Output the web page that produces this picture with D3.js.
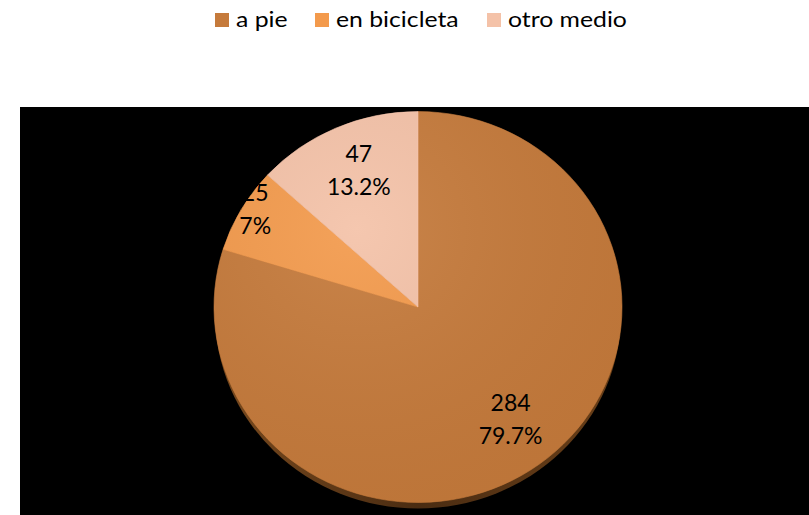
<!DOCTYPE html>
<html>
<head>
<meta charset="utf-8">
<script src="https://cdn.jsdelivr.net/npm/d3@7"></script>
<style>
  html, body { margin: 0; padding: 0; background: #fff; }
  svg { display: block; font-family: Lato, "Open Sans", sans-serif; }
</style>
</head>
<body>
<svg id="chart" width="809" height="515"></svg>
<script>
const categories = ["a pie", "en bicicleta", "otro medio"];
const values = [284, 25, 47];
const percents = ["79.7%", "7%", "13.2%"];
const colors = ["#c57a3b", "#f39a4c", "#f4c2a8"];

const svg = d3.select("#chart");
const width = 809, height = 515;

// fondo negro del área de trazado
svg.append("rect")
  .attr("x", 20).attr("y", 107)
  .attr("width", width - 20).attr("height", height - 107)
  .attr("fill", "#000");

const cx = 418, cy = 307, r = 204, squash = 0.958;

const pie = d3.pie().sort(null).value(d => d.value);
const arcs = pie(categories.map((c, i) => ({ cat: c, value: values[i], pct: percents[i], color: colors[i] })));

const arc = d3.arc().innerRadius(0).outerRadius(r);

const defs = svg.append("defs");
const shade = defs.append("linearGradient")
  .attr("id", "shadow-grad")
  .attr("x1", "0%").attr("x2", "100%").attr("y1", "0%").attr("y2", "0%");
shade.append("stop").attr("offset", "0%").attr("stop-color", "#7a4a1e");
shade.append("stop").attr("offset", "50%").attr("stop-color", "#4a2c12");
shade.append("stop").attr("offset", "100%").attr("stop-color", "#6a3f18");

const sheen = defs.append("radialGradient")
  .attr("id", "sheen")
  .attr("cx", "35%").attr("cy", "30%").attr("r", "75%");
sheen.append("stop").attr("offset", "0%").attr("stop-color", "#fff").attr("stop-opacity", 0.08);
sheen.append("stop").attr("offset", "100%").attr("stop-color", "#000").attr("stop-opacity", 0.04);

// sombra / canto inferior
svg.append("g")
  .attr("transform", `translate(${cx}, ${cy + 7}) scale(1, ${squash})`)
  .append("circle")
  .attr("r", r - 1)
  .attr("fill", "url(#shadow-grad)");

const g = svg.append("g")
  .attr("transform", `translate(${cx}, ${cy}) scale(1, ${squash})`);

g.selectAll("path.slice")
  .data(arcs)
  .enter()
  .append("path")
  .attr("class", "slice")
  .attr("d", arc)
  .attr("fill", d => d.data.color)
  .attr("stroke", d => d3.color(d.data.color).brighter(0.1))
  .attr("stroke-width", 0.6);

g.append("circle")
  .attr("r", r)
  .attr("fill", "url(#sheen)")
  .attr("pointer-events", "none");

// etiquetas: radio relativo según la porción (ajuste "mejor ajuste" de Excel)
const labelFactor = { "a pie": 0.765, "en bicicleta": 0.92, "otro medio": 0.72 };

const labels = svg.append("g")
  .attr("transform", `translate(${cx}, ${cy})`);

arcs.forEach(d => {
  const mid = (d.startAngle + d.endAngle) / 2;
  const lr = r * labelFactor[d.data.cat];
  const x = Math.sin(mid) * lr;
  const y = -Math.cos(mid) * lr * squash;
  const t = labels.append("text")
    .attr("text-anchor", "middle")
    .attr("font-size", "23px")
    .attr("fill", "#000");
  t.append("tspan").attr("x", x).attr("y", y - 16.5).text(d.data.value);
  t.append("tspan").attr("x", x).attr("y", y + 16.5).text(d.data.pct);
});

// leyenda
const legendX = [215, 315, 487];
const legend = svg.append("g").attr("class", "legend");
categories.forEach((c, i) => {
  legend.append("rect")
    .attr("x", legendX[i]).attr("y", 13)
    .attr("width", 14).attr("height", 14)
    .attr("fill", colors[i]);
  legend.append("text")
    .attr("transform", `translate(${legendX[i] + 21}, 27) scale(1.18, 1)`)
    .attr("font-size", "21px")
    .attr("fill", "#000")
    .text(c);
});
</script>
</body>
</html>
